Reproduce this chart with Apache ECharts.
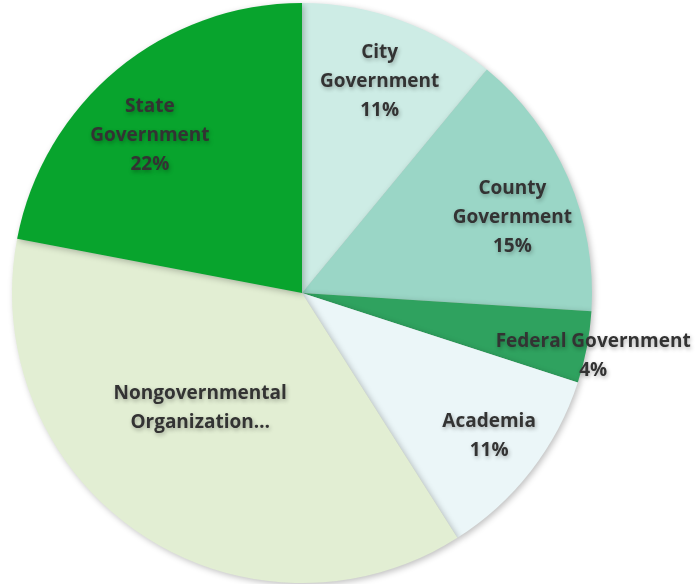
<!DOCTYPE html>
<html>
<head>
<meta charset="utf-8">
<script src="https://cdn.jsdelivr.net/npm/echarts@6/dist/echarts.min.js"></script>
<style>
  html, body { margin: 0; padding: 0; background: #fff; }
  #main { width: 697px; height: 584px; }
</style>
</head>
<body>
<div id="main"></div>
<script>
// slices clockwise from 12 o'clock
const categories = ['City Government', 'County Government', 'Federal Government', 'Academia', 'Nongovernmental Organization', 'State Government']
const values = [11, 15, 4, 11, 37, 22]
const labelTexts = ['City\nGovernment\n11%', 'County\nGovernment\n15%', 'Federal Government\n4%', 'Academia\n11%', 'Nongovernmental\nOrganization…', 'State\nGovernment\n22%']
const colors = ['#cdece5', '#9ad6c6', '#2fa25f', '#ebf6f8', '#e2eed3', '#08a42d']

const chart = echarts.init(document.getElementById('main'))

const center = [302, 293]
const R = 290

// label nudges for slices where Excel moved the label off the default spot
const labelOffsets = [[0, 4], [0, 16], [66, 20], [6, 3], [27, -74], [-6, 19]]

const pieData = categories.map((name, i) => ({
  name: name,
  value: values[i],
  itemStyle: { color: colors[i] }
}))

const labelData = categories.map((name, i) => {
  const item = { name: name, value: values[i] }
  if (labelOffsets[i]) item.label = { offset: labelOffsets[i] }
  return item
})

chart.setOption({
  animation: false,
  series: [
    {
      type: 'pie',
      center: center,
      radius: [0, R],
      startAngle: 90,
      clockwise: true,
      data: pieData,
      label: { show: false },
      labelLine: { show: false },
      itemStyle: {
        shadowBlur: 6,
        shadowColor: 'rgba(0,0,0,0.25)',
        shadowOffsetX: 2,
        shadowOffsetY: 2
      },
      emphasis: { disabled: true }
    },
    {
      // transparent ring: its inside labels sit at ~0.78 of the radius
      type: 'pie',
      center: center,
      radius: [R * 0.56, R],
      startAngle: 90,
      clockwise: true,
      silent: true,
      data: labelData,
      itemStyle: { color: 'rgba(0,0,0,0)' },
      labelLine: { show: false },
      label: {
        show: true,
        position: 'inside',
        formatter: p => labelTexts[p.dataIndex],
        fontFamily: 'Open Sans',
        fontWeight: 'bold',
        fontSize: 19,
        lineHeight: 29,
        color: '#333333',
        textShadowColor: 'rgba(0,0,0,0.3)',
        textShadowBlur: 4,
        textShadowOffsetX: 1,
        textShadowOffsetY: 2
      },
      emphasis: { disabled: true }
    }
  ]
})
</script>
</body>
</html>
